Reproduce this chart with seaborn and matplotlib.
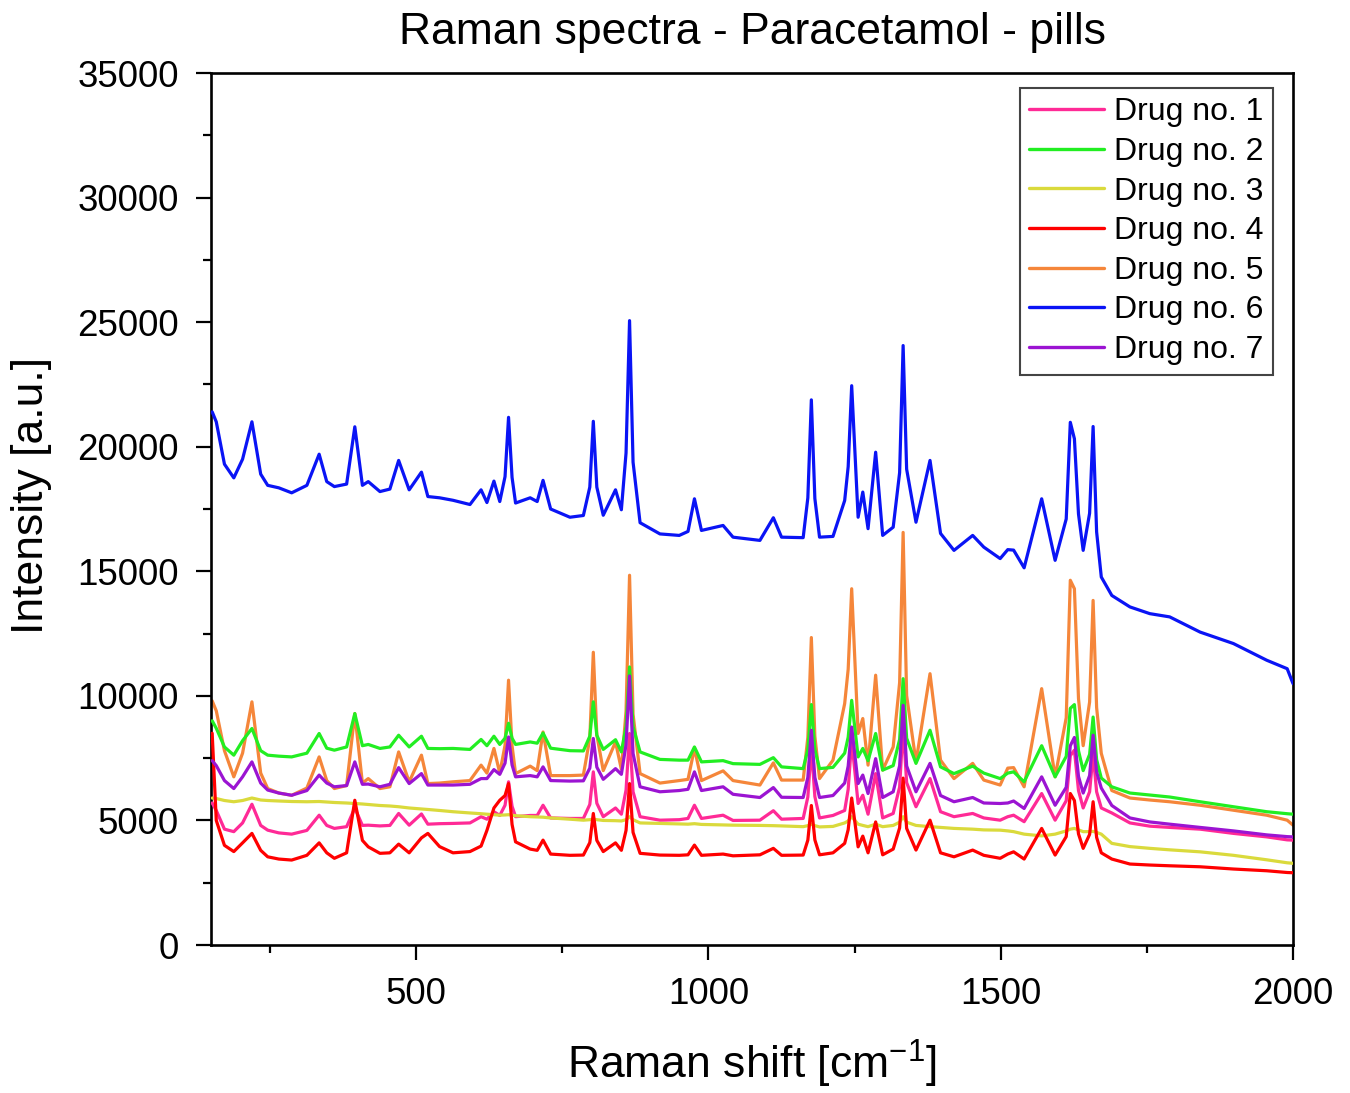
import numpy as np
import pandas as pd
import matplotlib
matplotlib.use('Agg')
from matplotlib import pyplot as plt
from matplotlib.ticker import MultipleLocator
import seaborn as sns

# Raman shift grid (cm-1)
shift = [151, 158, 172, 188, 203, 219, 234, 246, 265, 287,
         313, 334, 347, 360, 381, 395, 408, 418, 438, 455,
         470, 488, 509, 520, 540, 563, 592, 611, 621, 633,
         643, 658, 670, 695, 707, 717, 730, 763, 786, 803,
         820, 841, 851, 865, 883, 917, 950, 965, 976, 988,
         1025, 1042, 1088, 1111, 1125, 1162, 1176, 1190, 1213, 1233,
         1245, 1256, 1264, 1273, 1286, 1298, 1316, 1333, 1355, 1379,
         1397, 1420, 1452, 1471, 1499, 1512, 1522, 1540, 1570, 1593,
         1619, 1626, 1641, 1658, 1672, 1690, 1721, 1755, 1789, 1841,
         1898, 1955, 1990, 2000]

drug1 = [5700, 5400, 4650, 4550, 4900, 5650, 4800, 4610, 4500, 4450,
         4600, 5210, 4800, 4680, 4750, 5500, 4800, 4810, 4780, 4800,
         5280, 4810, 5260, 4850, 4870, 4880, 4900, 5150, 5050, 5350,
         5200, 6550, 5150, 5200, 5200, 5610, 5100, 5080, 5080, 6950,
         5150, 5500, 5250, 8490, 5150, 5010, 5030, 5080, 5610, 5080,
         5210, 5000, 5010, 5390, 5050, 5080, 7950, 5100, 5200, 5400,
         8220, 5680, 6010, 5250, 6880, 5100, 5280, 8800, 5550, 6680,
         5350, 5150, 5280, 5100, 5010, 5150, 5210, 4950, 6080, 5010,
         7600, 7820, 5500, 7680, 5500, 5300, 4900, 4770, 4720, 4650,
         4480, 4340, 4220, 4210]

drug2 = [9000, 8700, 7950, 7620, 8200, 8690, 7800, 7620, 7580, 7550,
         7700, 8490, 7900, 7820, 7950, 9290, 8000, 8050, 7890, 7950,
         8420, 7950, 8380, 7890, 7880, 7890, 7850, 8250, 8000, 8380,
         8050, 8900, 8050, 8150, 8100, 8510, 7900, 7800, 7790, 9760,
         7850, 8240, 7750, 11160, 7750, 7450, 7420, 7420, 7950, 7350,
         7400, 7280, 7250, 7520, 7150, 7080, 9650, 7080, 7130, 7700,
         9820, 7550, 7890, 7400, 8490, 7020, 7200, 10690, 7290, 8620,
         7150, 6880, 7180, 6900, 6680, 6900, 6950, 6550, 8000, 6750,
         9500, 9650, 7000, 9150, 6700, 6350, 6100, 6020, 5940, 5750,
         5550, 5350, 5270, 5250]

drug3 = [5900, 5880, 5800, 5750, 5800, 5900, 5820, 5800, 5780, 5760,
         5750, 5760, 5740, 5720, 5700, 5680, 5660, 5640, 5600, 5580,
         5550, 5500, 5460, 5440, 5400, 5350, 5300, 5270, 5250, 5230,
         5210, 5230, 5190, 5150, 5140, 5130, 5100, 5050, 5010, 5050,
         5000, 4990, 4980, 5150, 4900, 4880, 4860, 4850, 4870, 4840,
         4820, 4810, 4800, 4790, 4780, 4750, 4850, 4740, 4760, 4900,
         5150, 4850, 4800, 4750, 4850, 4750, 4800, 5150, 4800, 4750,
         4720, 4680, 4650, 4620, 4610, 4580, 4550, 4450, 4380, 4450,
         4650, 4680, 4550, 4560, 4450, 4080, 3950, 3880, 3820, 3740,
         3600, 3420, 3300, 3280]

drug4 = [8500, 5000, 4000, 3750, 4100, 4480, 3800, 3540, 3450, 3410,
         3600, 4100, 3700, 3480, 3700, 5810, 4200, 3940, 3680, 3700,
         4050, 3700, 4300, 4480, 3950, 3700, 3750, 3970, 4600, 5500,
         5810, 6480, 4140, 3850, 3800, 4210, 3650, 3600, 3610, 5280,
         3750, 4100, 3800, 6480, 3680, 3610, 3600, 3620, 4010, 3600,
         3650, 3580, 3620, 3880, 3600, 3610, 5600, 3620, 3700, 4080,
         5900, 3940, 4370, 3700, 4940, 3620, 3850, 6700, 3810, 5010,
         3700, 3540, 3810, 3600, 3480, 3650, 3740, 3450, 4680, 3610,
         6080, 5800, 3880, 5750, 3700, 3450, 3250, 3210, 3180, 3140,
         3050, 2980, 2910, 2900]

drug5 = [9800, 9400, 7800, 6750, 7700, 9760, 6900, 6280, 6100, 6010,
         6300, 7550, 6600, 6280, 6400, 9290, 6500, 6680, 6280, 6350,
         7750, 6550, 7620, 6480, 6500, 6550, 6600, 7220, 6900, 7890,
         6900, 10630, 6880, 7180, 7000, 8550, 6800, 6800, 6820, 11750,
         7000, 8150, 7050, 14840, 6880, 6500, 6600, 6650, 7890, 6600,
         6990, 6600, 6420, 7310, 6620, 6620, 12340, 6680, 7420, 9690,
         14300, 8490, 9090, 7220, 10830, 7020, 7950, 16560, 7350, 10890,
         7420, 6680, 7290, 6620, 6420, 7100, 7120, 6350, 10290, 6750,
         14640, 14300, 8000, 13830, 7690, 6200, 5900, 5820, 5750, 5610,
         5410, 5210, 5010, 4810]

drug6 = [21400, 21000, 19300, 18750, 19500, 21000, 18900, 18450, 18350, 18150,
         18450, 19700, 18600, 18400, 18500, 20800, 18450, 18600, 18200, 18300,
         19450, 18270, 18980, 18000, 17950, 17850, 17680, 18270, 17760, 18620,
         17800, 21180, 17740, 17950, 17800, 18650, 17500, 17170, 17240, 21020,
         17250, 18270, 17470, 25060, 16950, 16500, 16440, 16600, 17910, 16640,
         16840, 16370, 16240, 17150, 16370, 16350, 21880, 16370, 16400, 17840,
         22450, 17170, 18180, 16710, 19780, 16440, 16770, 24060, 16970, 19450,
         16520, 15840, 16440, 15970, 15510, 15870, 15850, 15140, 17910, 15440,
         20980, 20320, 15840, 20810, 14770, 14030, 13570, 13300, 13170, 12560,
         12100, 11430, 11090, 10490]

drug7 = [7400, 7200, 6600, 6280, 6750, 7350, 6500, 6220, 6100, 6010,
         6200, 6820, 6500, 6350, 6400, 7350, 6450, 6460, 6350, 6450,
         7120, 6480, 6880, 6420, 6420, 6420, 6450, 6680, 6680, 7040,
         6850, 8350, 6750, 6800, 6750, 7150, 6600, 6580, 6590, 8290,
         6650, 7080, 6850, 10800, 6350, 6150, 6200, 6250, 6950, 6200,
         6350, 6050, 5920, 6320, 5930, 5920, 8620, 5920, 6000, 6500,
         8750, 6480, 6820, 6080, 7480, 5920, 6150, 9620, 6150, 7290,
         6000, 5750, 5920, 5700, 5680, 5700, 5780, 5480, 6750, 5610,
         8000, 8330, 6100, 8420, 6300, 5600, 5100, 4940, 4850, 4720,
         4580, 4420, 4350, 4340]

# flank points of the sharpest bands (a few cm-1 either side of the top)
flank_shift = [652, 664, 797, 809, 859, 871, 1170, 1182, 1239, 1327,
               1339, 1612, 1633, 1652, 1664]
drug1_fl = [5610, 5570, 5640, 5690, 6220, 6150, 5940, 5960, 6250, 6340,
            6520, 5790, 6200, 6150, 6150]
drug2_fl = [8300, 8300, 8380, 8420, 8770, 8770, 7850, 7850, 8340, 8250,
            8300, 7570, 7800, 7650, 7440]
drug3_fl = [5220, 5210, 5030, 5030, 5030, 5030, 4790, 4790, 4980, 4930,
            4930, 4580, 4620, 4550, 4520]
drug4_fl = [6000, 4840, 4110, 4200, 4600, 4520, 4210, 4220, 4630, 4700,
            4680, 4350, 4460, 4440, 4320]
drug5_fl = [8020, 8000, 8300, 8430, 9390, 9270, 8340, 8380, 11070, 10530,
            10010, 9120, 9890, 9750, 9530]
drug6_fl = [18800, 18770, 18380, 18380, 19750, 19380, 17950, 17920, 19200, 18960,
            19100, 17100, 17300, 17330, 16580]
drug7_fl = [7300, 7230, 7100, 7140, 8040, 7690, 6730, 6730, 7180, 7190,
            7190, 6330, 6770, 6800, 6940]

names = ['Drug no. 1', 'Drug no. 2', 'Drug no. 3', 'Drug no. 4',
         'Drug no. 5', 'Drug no. 6', 'Drug no. 7']
colors = ['#FF2A96', '#22EE22', '#DADA3C', '#FF0000',
          '#F5863A', '#0A14F5', '#9B14D2']

main_vals = [drug1, drug2, drug3, drug4, drug5, drug6, drug7]
flank_vals = [drug1_fl, drug2_fl, drug3_fl, drug4_fl, drug5_fl, drug6_fl, drug7_fl]

frames = []
for name, vals, fl in zip(names, main_vals, flank_vals):
    part = pd.DataFrame({'shift': shift + flank_shift, 'intensity': vals + fl})
    part['drug'] = name
    frames.append(part.sort_values('shift'))
long_df = pd.concat(frames, ignore_index=True)

sns.set_theme(style='ticks')
plt.rcParams['font.family'] = ['Liberation Sans', 'DejaVu Sans']
plt.rcParams['mathtext.default'] = 'regular'
for key in ['text.color', 'axes.labelcolor', 'xtick.color', 'ytick.color']:
    plt.rcParams[key] = 'black'

fig = plt.figure(figsize=(13.5, 10.93), dpi=100)
ax = fig.add_axes([0.1563, 0.1354, 0.8015, 0.7978])

# drawing order picked to match which trace sits on top in the picture
zorders = {'Drug no. 5': 2, 'Drug no. 1': 3, 'Drug no. 3': 4, 'Drug no. 4': 5,
           'Drug no. 2': 6, 'Drug no. 7': 7, 'Drug no. 6': 8}
for name, col in zip(names, colors):
    sub = long_df[long_df['drug'] == name]
    sns.lineplot(data=sub, x='shift', y='intensity', color=col, lw=2.3,
                 label=name, sort=False, ax=ax, zorder=zorders[name])

ax.set_xlim(149, 2000)
ax.set_ylim(0, 35000)
ax.xaxis.set_major_locator(MultipleLocator(500))
ax.xaxis.set_minor_locator(MultipleLocator(250))
ax.yaxis.set_major_locator(MultipleLocator(5000))
ax.yaxis.set_minor_locator(MultipleLocator(2500))
ax.tick_params(which='major', length=11, width=1.6, labelsize=26.5, pad=12)
ax.tick_params(which='minor', length=5.5, width=1.6)
for sp in ax.spines.values():
    sp.set_linewidth(1.9)
    sp.set_color('black')

ax.set_xlabel(r'Raman shift [cm$^{-1}$]', fontsize=32, labelpad=19)
ax.set_ylabel('Intensity [a.u.]', fontsize=32)
ax.yaxis.set_label_coords(-0.147, 0.515)
ax.set_title('Raman spectra - Paracetamol - pills', fontsize=32, pad=21)

handles, labels = ax.get_legend_handles_labels()
leg = ax.legend(handles, labels, loc='upper right', bbox_to_anchor=(0.9815, 0.983),
                borderaxespad=0, fontsize=23, handlelength=2.35, handletextpad=0.3,
                labelspacing=0.3, borderpad=0.3, fancybox=False, framealpha=1,
                edgecolor='#444444')
leg.get_frame().set_linewidth(1.5)
for line in leg.get_lines():
    line.set_linewidth(2.4)

fig.savefig('out.png', dpi=100)
